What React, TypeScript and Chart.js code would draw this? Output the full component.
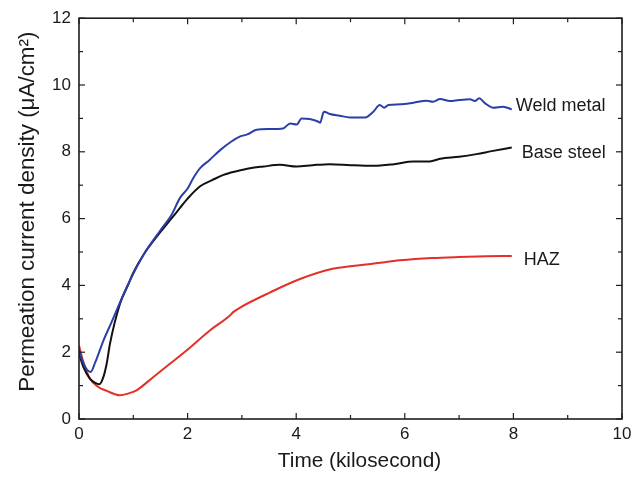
import React, { useEffect, useRef } from "react";
import { Chart, registerables } from "chart.js";

Chart.register(...registerables);

// ---- data (Time in kiloseconds, current density in µA/cm²) ----
const weldTime = [0, 0.05, 0.1, 0.15, 0.215, 0.3, 0.45, 0.6, 0.755, 0.9, 1.06, 1.2, 1.49, 1.7, 1.86, 2.0, 2.1, 2.23, 2.4, 2.6, 2.8, 2.97, 3.1, 3.27, 3.5, 3.76, 3.89, 4.01, 4.1, 4.25, 4.41, 4.44, 4.51, 4.62, 4.8, 4.99, 5.27, 5.42, 5.54, 5.62, 5.7, 5.91, 6.16, 6.4, 6.52, 6.65, 6.83, 7.0, 7.2, 7.29, 7.37, 7.48, 7.63, 7.81, 7.97];
const weldValues = [2.08, 1.8, 1.6, 1.47, 1.41, 1.7, 2.35, 2.9, 3.49, 4.02, 4.54, 4.95, 5.63, 6.1, 6.62, 6.9, 7.2, 7.51, 7.75, 8.05, 8.3, 8.46, 8.52, 8.66, 8.68, 8.7, 8.85, 8.82, 9.0, 8.98, 8.9, 8.87, 9.2, 9.13, 9.08, 9.03, 9.03, 9.2, 9.4, 9.32, 9.4, 9.42, 9.47, 9.53, 9.5, 9.58, 9.52, 9.55, 9.57, 9.52, 9.6, 9.45, 9.32, 9.35, 9.27];

const baseTime = [0, 0.08, 0.2, 0.3, 0.375, 0.45, 0.51, 0.57, 0.755, 0.9, 1.0, 1.2, 1.5, 1.7, 1.86, 2.0, 2.23, 2.45, 2.66, 2.9, 3.15, 3.4, 3.7, 4.01, 4.3, 4.62, 5.0, 5.42, 5.8, 6.16, 6.46, 6.65, 7.0, 7.32, 7.6, 7.97];
const baseValues = [1.96, 1.56, 1.21, 1.08, 1.04, 1.26, 1.66, 2.25, 3.45, 4.0, 4.38, 4.95, 5.6, 6.0, 6.32, 6.6, 6.97, 7.15, 7.31, 7.42, 7.51, 7.56, 7.61, 7.56, 7.6, 7.63, 7.6, 7.58, 7.63, 7.71, 7.71, 7.79, 7.85, 7.93, 8.02, 8.13];

const hazTime = [0, 0.08, 0.2, 0.355, 0.51, 0.755, 0.9, 1.06, 1.37, 1.68, 1.98, 2.41, 2.78, 2.84, 2.96, 3.52, 4.07, 4.65, 5.0, 5.5, 5.91, 6.5, 7.0, 7.5, 7.97];
const hazValues = [2.2, 1.71, 1.21, 0.96, 0.84, 0.71, 0.76, 0.86, 1.26, 1.66, 2.05, 2.65, 3.1, 3.2, 3.33, 3.79, 4.19, 4.49, 4.57, 4.67, 4.75, 4.82, 4.85, 4.87, 4.88];

const seriesNames = ["Weld metal", "Base steel", "HAZ"];
const seriesColors = ["#2b3fa8", "#111111", "#e3302a"];

const xTicks = [0, 2, 4, 6, 8, 10];
const yTicks = [0, 2, 4, 6, 8, 10, 12];

const xTitle = "Time (kilosecond)";
const yTitle = "Permeation current density (\u03bcA/cm\u00b2)";

const FONT = '"Liberation Sans", Arial, Helvetica, sans-serif';

const toPoints = (xs: number[], ys: number[]) => xs.map((x, i) => ({ x, y: ys[i] }));

// label offsets (px) relative to each series' last point
const labelOffsets = [
  { dx: 4, dy: -3 },
  { dx: 10, dy: 6 },
  { dx: 12, dy: 4 },
];

const framePlugin = {
  id: "frameTicks",
  afterDatasetsDraw(chart: any) {
    const { ctx, chartArea } = chart;
    const { left, right, top, bottom } = chartArea;
    const xs = chart.scales.x;
    const ys = chart.scales.y;
    ctx.save();
    ctx.strokeStyle = "#1e1e1e";
    ctx.lineWidth = 1.6;
    ctx.strokeRect(left, top, right - left, bottom - top);
    ctx.lineWidth = 1.2;
    const seg = (x1: number, y1: number, x2: number, y2: number) => {
      ctx.beginPath();
      ctx.moveTo(x1, y1);
      ctx.lineTo(x2, y2);
      ctx.stroke();
    };
    const major = 6;
    const minor = 4;
    for (let i = 0; i < xTicks.length; i++) {
      const px = xs.getPixelForValue(xTicks[i]);
      seg(px, bottom, px, bottom - major);
      seg(px, top, px, top + major);
      if (i < xTicks.length - 1) {
        const pm = xs.getPixelForValue((xTicks[i] + xTicks[i + 1]) / 2);
        seg(pm, bottom, pm, bottom - minor);
        seg(pm, top, pm, top + minor);
      }
    }
    for (let i = 0; i < yTicks.length; i++) {
      const py = ys.getPixelForValue(yTicks[i]);
      seg(left, py, left + major, py);
      seg(right, py, right - major, py);
      if (i < yTicks.length - 1) {
        const pm = ys.getPixelForValue((yTicks[i] + yTicks[i + 1]) / 2);
        seg(left, pm, left + minor, pm);
        seg(right, pm, right - minor, pm);
      }
    }

    // series labels
    ctx.fillStyle = "#1a1a1a";
    ctx.font = `18px ${FONT}`;
    ctx.textBaseline = "middle";
    ctx.textAlign = "left";
    chart.data.datasets.forEach((ds: any, i: number) => {
      const last = ds.data[ds.data.length - 1];
      const px = xs.getPixelForValue(last.x) + labelOffsets[i].dx;
      const py = ys.getPixelForValue(last.y) + labelOffsets[i].dy;
      ctx.fillText(seriesNames[i], px, py);
    });

    // axis titles
    ctx.font = `20.8px ${FONT}`;
    ctx.textAlign = "center";
    ctx.fillText(xTitle, (left + right) / 2 + 9, 461);
    ctx.save();
    ctx.translate(28, (top + bottom) / 2 - 7);
    ctx.rotate(-Math.PI / 2);
    ctx.font = `22.4px ${FONT}`;
    ctx.fillText(yTitle, 0, 0);
    ctx.restore();
    ctx.restore();
  },
};

export default function App() {
  const canvasRef = useRef<HTMLCanvasElement | null>(null);

  useEffect(() => {
    const canvas = canvasRef.current;
    if (!canvas) return;
    const data = [
      toPoints(weldTime, weldValues),
      toPoints(baseTime, baseValues),
      toPoints(hazTime, hazValues),
    ];
    const chart = new Chart(canvas, {
      type: "line",
      data: {
        datasets: data.map((d, i) => ({
          label: seriesNames[i],
          data: d,
          borderColor: seriesColors[i],
          backgroundColor: seriesColors[i],
          borderWidth: 2,
          pointRadius: 0,
          cubicInterpolationMode: "monotone" as const,
          fill: false,
        })),
      },
      options: {
        responsive: false,
        animation: false,
        layout: { padding: { top: 16, right: 21, left: 0, bottom: 0 } },
        plugins: {
          legend: { display: false },
          tooltip: { enabled: false },
        },
        scales: {
          x: {
            type: "linear",
            min: 0,
            max: 10,
            afterFit: (s: any) => {
              s.height = 58;
            },
            afterBuildTicks: (s: any) => {
              s.ticks = xTicks.map((v) => ({ value: v }));
            },
            ticks: {
              color: "#1a1a1a",
              font: { family: FONT, size: 17 },
              padding: 5,
              maxRotation: 0,
            },
            grid: { display: false, drawTicks: false },
            border: { display: false },
          },
          y: {
            type: "linear",
            min: 0,
            max: 12,
            afterFit: (s: any) => {
              s.width = 79;
            },
            afterBuildTicks: (s: any) => {
              s.ticks = yTicks.map((v) => ({ value: v }));
            },
            ticks: {
              color: "#1a1a1a",
              font: { family: FONT, size: 17 },
              padding: 8,
            },
            grid: { display: false, drawTicks: false },
            border: { display: false },
          },
        },
      },
      plugins: [framePlugin],
    });
    return () => chart.destroy();
  }, []);

  return (
    <div style={{ position: "absolute", left: 0, top: 0, width: 643, height: 477, background: "#fff" }}>
      <canvas ref={canvasRef} width={643} height={477} />
    </div>
  );
}
